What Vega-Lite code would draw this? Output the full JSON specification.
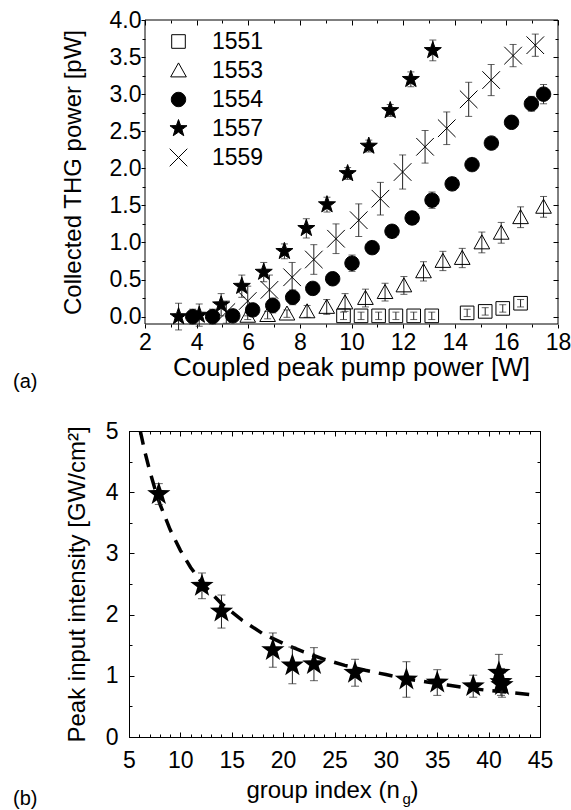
{
  "$schema": "https://vega.github.io/schema/vega-lite/v6.json",
  "padding": {"left": 12, "top": 9, "right": 2, "bottom": 0},
  "background": "white",
  "config": {
    "font": "Liberation Sans",
    "view": {"stroke": "black", "strokeWidth": 1},
    "axis": {
      "domainColor": "black", "tickColor": "black", "labelColor": "black", "titleColor": "black",
      "labelFont": "Liberation Sans", "titleFont": "Liberation Sans",
      "labelFontSize": 23, "titleFontSize": 24, "titleFontWeight": "normal",
      "grid": false, "tickWidth": 1, "domainWidth": 1, "labelOverlap": false, "labelFlush": false, "labelBound": false
    },
    "legend": {
      "labelFont": "Liberation Sans", "labelFontSize": 23, "labelColor": "black",
      "symbolStrokeColor": "black", "symbolStrokeWidth": 1, "symbolSize": 256,
      "rowPadding": 5, "labelOffset": 22
    },
    "title": {"font": "Liberation Sans", "fontSize": 20, "fontWeight": "normal", "color": "black"}
  },
  "datasets": {
    "thg": [
      {"s": "1551", "p": 9.69, "v": 0.01, "e": 0.05},
      {"s": "1551", "p": 10.37, "v": 0.01, "e": 0.05},
      {"s": "1551", "p": 11.05, "v": 0.01, "e": 0.05},
      {"s": "1551", "p": 11.72, "v": 0.01, "e": 0.05},
      {"s": "1551", "p": 12.41, "v": 0.01, "e": 0.05},
      {"s": "1551", "p": 13.11, "v": 0.01, "e": 0.05},
      {"s": "1551", "p": 14.48, "v": 0.05, "e": 0.05},
      {"s": "1551", "p": 15.18, "v": 0.07, "e": 0.05},
      {"s": "1551", "p": 15.86, "v": 0.11, "e": 0.05},
      {"s": "1551", "p": 16.55, "v": 0.18, "e": 0.05},
      {"s": "1553", "p": 5.98, "v": 0.01, "e": 0.05},
      {"s": "1553", "p": 6.75, "v": 0.02, "e": 0.05},
      {"s": "1553", "p": 7.5, "v": 0.04, "e": 0.05},
      {"s": "1553", "p": 8.28, "v": 0.07, "e": 0.08},
      {"s": "1553", "p": 9.04, "v": 0.13, "e": 0.1},
      {"s": "1553", "p": 9.75, "v": 0.19, "e": 0.12},
      {"s": "1553", "p": 10.54, "v": 0.25, "e": 0.12},
      {"s": "1553", "p": 11.3, "v": 0.33, "e": 0.12},
      {"s": "1553", "p": 12.03, "v": 0.42, "e": 0.12},
      {"s": "1553", "p": 12.79, "v": 0.61, "e": 0.13},
      {"s": "1553", "p": 13.54, "v": 0.75, "e": 0.13},
      {"s": "1553", "p": 14.29, "v": 0.79, "e": 0.13},
      {"s": "1553", "p": 15.05, "v": 1.0, "e": 0.14},
      {"s": "1553", "p": 15.8, "v": 1.13, "e": 0.14},
      {"s": "1553", "p": 16.55, "v": 1.34, "e": 0.14},
      {"s": "1553", "p": 17.44, "v": 1.48, "e": 0.14},
      {"s": "1554", "p": 3.85, "v": 0.0, "e": 0.1},
      {"s": "1554", "p": 4.62, "v": 0.0, "e": 0.1},
      {"s": "1554", "p": 5.4, "v": 0.01, "e": 0.08},
      {"s": "1554", "p": 6.17, "v": 0.09, "e": 0.08},
      {"s": "1554", "p": 6.95, "v": 0.15, "e": 0.1},
      {"s": "1554", "p": 7.72, "v": 0.26, "e": 0.1},
      {"s": "1554", "p": 8.5, "v": 0.38, "e": 0.08},
      {"s": "1554", "p": 9.27, "v": 0.51, "e": 0.08},
      {"s": "1554", "p": 10.02, "v": 0.72, "e": 0.11},
      {"s": "1554", "p": 10.8, "v": 0.93, "e": 0.06},
      {"s": "1554", "p": 11.57, "v": 1.15, "e": 0.06},
      {"s": "1554", "p": 12.35, "v": 1.33, "e": 0.08},
      {"s": "1554", "p": 13.12, "v": 1.57, "e": 0.11},
      {"s": "1554", "p": 13.9, "v": 1.79, "e": 0.08},
      {"s": "1554", "p": 14.67, "v": 2.05, "e": 0.06},
      {"s": "1554", "p": 15.42, "v": 2.34, "e": 0.06},
      {"s": "1554", "p": 16.2, "v": 2.62, "e": 0.08},
      {"s": "1554", "p": 16.97, "v": 2.87, "e": 0.1},
      {"s": "1554", "p": 17.44, "v": 3.0, "e": 0.13},
      {"s": "1557", "p": 3.3, "v": 0.0, "e": 0.18},
      {"s": "1557", "p": 4.1, "v": 0.02, "e": 0.15},
      {"s": "1557", "p": 4.95, "v": 0.16, "e": 0.15},
      {"s": "1557", "p": 5.75, "v": 0.41, "e": 0.15},
      {"s": "1557", "p": 6.6, "v": 0.6, "e": 0.13},
      {"s": "1557", "p": 7.4, "v": 0.88, "e": 0.1},
      {"s": "1557", "p": 8.25, "v": 1.19, "e": 0.13},
      {"s": "1557", "p": 9.05, "v": 1.51, "e": 0.1},
      {"s": "1557", "p": 9.85, "v": 1.93, "e": 0.08},
      {"s": "1557", "p": 10.67, "v": 2.3, "e": 0.08},
      {"s": "1557", "p": 11.5, "v": 2.78, "e": 0.08},
      {"s": "1557", "p": 12.3, "v": 3.2, "e": 0.1},
      {"s": "1557", "p": 13.15, "v": 3.59, "e": 0.14},
      {"s": "1559", "p": 5.15, "v": 0.06, "e": 0.15},
      {"s": "1559", "p": 5.98, "v": 0.21, "e": 0.2},
      {"s": "1559", "p": 6.82, "v": 0.36, "e": 0.2},
      {"s": "1559", "p": 7.7, "v": 0.53, "e": 0.2},
      {"s": "1559", "p": 8.54, "v": 0.77, "e": 0.2},
      {"s": "1559", "p": 9.4, "v": 1.05, "e": 0.2},
      {"s": "1559", "p": 10.28, "v": 1.3, "e": 0.22},
      {"s": "1559", "p": 11.12, "v": 1.59, "e": 0.22},
      {"s": "1559", "p": 11.98, "v": 1.95, "e": 0.23},
      {"s": "1559", "p": 12.85, "v": 2.29, "e": 0.22},
      {"s": "1559", "p": 13.69, "v": 2.54, "e": 0.22},
      {"s": "1559", "p": 14.54, "v": 2.93, "e": 0.23},
      {"s": "1559", "p": 15.41, "v": 3.19, "e": 0.21},
      {"s": "1559", "p": 16.26, "v": 3.52, "e": 0.15},
      {"s": "1559", "p": 17.12, "v": 3.66, "e": 0.15}
    ],
    "gi": [
      {"n": 7.9, "i": 3.97, "e": 0.17},
      {"n": 12.1, "i": 2.47, "e": 0.21},
      {"n": 14.0, "i": 2.05, "e": 0.27},
      {"n": 19.0, "i": 1.42, "e": 0.28},
      {"n": 20.9, "i": 1.17, "e": 0.3},
      {"n": 23.0, "i": 1.19, "e": 0.27},
      {"n": 27.0, "i": 1.05, "e": 0.22},
      {"n": 32.0, "i": 0.94, "e": 0.29},
      {"n": 35.0, "i": 0.89, "e": 0.21},
      {"n": 38.5, "i": 0.83, "e": 0.18},
      {"n": 41.0, "i": 1.05, "e": 0.3},
      {"n": 41.2, "i": 0.9, "e": 0.22},
      {"n": 41.3, "i": 0.85, "e": 0.2}
    ],
    "fit": [
      {"n": 6.1, "i": 5.0}, {"n": 6.5, "i": 4.69}, {"n": 7.0, "i": 4.36}, {"n": 7.5, "i": 4.07},
      {"n": 8.0, "i": 3.81}, {"n": 9.0, "i": 3.39}, {"n": 10.0, "i": 3.05}, {"n": 11.0, "i": 2.77},
      {"n": 12.0, "i": 2.54}, {"n": 13.0, "i": 2.35}, {"n": 14.0, "i": 2.18}, {"n": 16.0, "i": 1.91},
      {"n": 18.0, "i": 1.69}, {"n": 20.0, "i": 1.53}, {"n": 22.0, "i": 1.39}, {"n": 24.0, "i": 1.27},
      {"n": 26.0, "i": 1.17}, {"n": 28.0, "i": 1.09}, {"n": 30.0, "i": 1.02}, {"n": 32.0, "i": 0.95},
      {"n": 34.0, "i": 0.9}, {"n": 36.0, "i": 0.85}, {"n": 38.0, "i": 0.8}, {"n": 40.0, "i": 0.76},
      {"n": 42.0, "i": 0.73}, {"n": 44.2, "i": 0.69}
    ]
  },
  "spacing": 27,
  "vconcat": [
    {
      "width": 429,
      "height": 304,
      "view": {"stroke": null},
      "title": {"text": "(a)", "orient": "bottom", "anchor": "start", "frame": "group", "dx": -116, "offset": -8},
      "resolve": {"axis": {"x": "independent", "y": "independent"}},
      "layer": [
        {
          "data": {"values": [{}]},
          "mark": {"type": "rect", "fill": "transparent", "stroke": "black", "strokeWidth": 1},
          "encoding": {
            "x": {"datum": 2, "type": "quantitative", "scale": {"domain": [1.38, 18], "zero": false, "nice": false}, "axis": null},
            "x2": {"datum": 18},
            "y": {"datum": -0.1, "type": "quantitative", "scale": {"domain": [-0.1, 4.0], "zero": false, "nice": false}, "axis": null},
            "y2": {"datum": 4}
          }
        },
        {
          "data": {"name": "thg"},
          "mark": {"type": "errorbar", "ticks": {"size": 7}, "color": "#222222", "thickness": 1},
          "encoding": {
            "x": {"field": "p", "type": "quantitative", "scale": {"domain": [1.38, 18], "zero": false, "nice": false}, "axis": null},
            "y": {"field": "v", "type": "quantitative", "scale": {"domain": [-0.1, 4.0], "zero": false, "nice": false}, "axis": null},
            "yError": {"field": "e"}
          }
        },
        {
          "data": {"name": "thg"},
          "mark": {"type": "point", "strokeWidth": 1, "opacity": 1},
          "encoding": {
            "x": {"field": "p", "type": "quantitative", "scale": {"domain": [1.38, 18], "zero": false, "nice": false},
              "axis": {"orient": "bottom", "domain": false, "values": [2,3,4,5,6,7,8,9,10,11,12,13,14,15,16,17,18],
                "labelExpr": "datum.value % 2 == 0 ? datum.label : ''",
                "tickSize": {"condition": {"test": "datum.value % 2 == 0", "value": 4}, "value": 3},
                "title": "Coupled peak pump power [W]", "titleFontSize": 26, "titleX": 222, "labelPadding": 3, "titlePadding": 0}},
            "y": {"field": "v", "type": "quantitative", "scale": {"domain": [-0.1, 4.0], "zero": false, "nice": false},
              "axis": {"orient": "left", "domain": false, "offset": -16, "values": [0,0.25,0.5,0.75,1,1.25,1.5,1.75,2,2.25,2.5,2.75,3,3.25,3.5,3.75,4],
                "labelExpr": "datum.value % 0.5 == 0 ? format(datum.value, '.1f') : ''",
                "tickSize": {"condition": {"test": "datum.value % 0.5 == 0", "value": 4}, "value": 3},
                "title": "Collected THG power [pW]", "labelPadding": 0, "titlePadding": 24}},
            "shape": {"field": "s", "type": "nominal",
              "scale": {"domain": ["1551", "1553", "1554", "1557", "1559"],
                "range": [
                  "M-0.85,-0.85H0.85V0.85H-0.85Z",
                  "M0,-0.95L0.98,0.8H-0.98Z",
                  "M-0.9,0A0.9,0.9 0 1,0 0.9,0A0.9,0.9 0 1,0 -0.9,0Z",
                  "M0,-1.12L0.263,-0.363L1.065,-0.346L0.426,0.139L0.659,0.906L0,0.448L-0.659,0.906L-0.426,0.139L-1.065,-0.346L-0.263,-0.363Z",
                  "M-1.1,-1.1L1.1,1.1M-1.1,1.1L1.1,-1.1"
                ]},
              "legend": {"title": null, "orient": "none", "legendX": 38, "legendY": 10}},
            "fill": {"field": "s", "type": "nominal",
              "scale": {"domain": ["1551", "1553", "1554", "1557", "1559"],
                "range": ["transparent", "transparent", "black", "black", "transparent"]},
              "legend": {"title": null, "orient": "none", "legendX": 38, "legendY": 10}},
            "stroke": {"field": "s", "type": "nominal",
              "scale": {"domain": ["1551", "1553", "1554", "1557", "1559"],
                "range": ["black", "black", "black", "black", "black"]},
              "legend": {"title": null, "orient": "none", "legendX": 38, "legendY": 10}},
            "size": {"value": 256}
          }
        },
        {
          "data": {"name": "thg"},
          "mark": {"type": "point", "opacity": 0},
          "encoding": {
            "x": {"field": "p", "type": "quantitative", "scale": {"domain": [1.38, 18], "zero": false, "nice": false},
              "axis": {"orient": "top", "domain": false, "values": [2,3,4,5,6,7,8,9,10,11,12,13,14,15,16,17,18], "labels": false, "title": null,
                "tickSize": {"condition": {"test": "datum.value % 2 == 0", "value": -5}, "value": -3}}},
            "y": {"field": "v", "type": "quantitative", "scale": {"domain": [-0.1, 4.0], "zero": false, "nice": false},
              "axis": {"orient": "right", "domain": false, "values": [0,0.25,0.5,0.75,1,1.25,1.5,1.75,2,2.25,2.5,2.75,3,3.25,3.5,3.75,4], "labels": false, "title": null,
                "tickSize": {"condition": {"test": "datum.value % 0.5 == 0", "value": -5}, "value": -3}}}
          }
        }
      ]
    },
    {
      "width": 411,
      "height": 306,
      "title": {"text": "(b)", "orient": "bottom", "anchor": "start", "frame": "group", "dx": -116, "offset": -18},
      "resolve": {"axis": {"x": "independent", "y": "independent"}},
      "layer": [
        {
          "data": {"name": "fit"},
          "mark": {"type": "line", "color": "black", "strokeWidth": 3.5, "strokeDash": [14, 9], "clip": true},
          "encoding": {
            "x": {"field": "n", "type": "quantitative", "scale": {"domain": [5, 45]},
              "axis": {"orient": "bottom", "values": [5,6,7,8,9,10,11,12,13,14,15,16,17,18,19,20,21,22,23,24,25,26,27,28,29,30,31,32,33,34,35,36,37,38,39,40,41,42,43,44,45],
                "labelExpr": "datum.value % 5 == 0 ? datum.label : ''",
                "tickSize": {"condition": {"test": "datum.value % 5 == 0", "value": -5}, "value": -3},
                "title": null, "labelPadding": 17}},
            "y": {"field": "i", "type": "quantitative", "scale": {"domain": [0, 5]},
              "axis": {"orient": "left", "values": [0,0.5,1,1.5,2,2.5,3,3.5,4,4.5,5],
                "labelExpr": "datum.value % 1 == 0 ? format(datum.value, 'd') : ''",
                "tickSize": {"condition": {"test": "datum.value % 1 == 0", "value": -5}, "value": -3},
                "title": "Peak input intensity [GW/cm²]", "labelPadding": 16, "titlePadding": 16}}
          }
        },
        {
          "data": {"name": "gi"},
          "mark": {"type": "errorbar", "ticks": {"size": 8}, "color": "#222222", "thickness": 1},
          "encoding": {
            "x": {"field": "n", "type": "quantitative", "axis": null},
            "y": {"field": "i", "type": "quantitative", "axis": null},
            "yError": {"field": "e"}
          }
        },
        {
          "data": {"name": "gi"},
          "mark": {"type": "point", "filled": true, "color": "black", "opacity": 1,
            "shape": "M0,-1L0.235,-0.324L0.951,-0.309L0.38,0.124L0.588,0.809L0,0.4L-0.588,0.809L-0.38,0.124L-0.951,-0.309L-0.235,-0.324Z",
            "size": 600},
          "encoding": {
            "x": {"field": "n", "type": "quantitative", "axis": null},
            "y": {"field": "i", "type": "quantitative", "axis": null}
          }
        },
        {
          "data": {"name": "gi"},
          "mark": {"type": "point", "opacity": 0},
          "encoding": {
            "x": {"field": "n", "type": "quantitative",
              "axis": {"orient": "top", "values": [5,6,7,8,9,10,11,12,13,14,15,16,17,18,19,20,21,22,23,24,25,26,27,28,29,30,31,32,33,34,35,36,37,38,39,40,41,42,43,44,45], "labels": false, "title": null,
                "tickSize": {"condition": {"test": "datum.value % 5 == 0", "value": -5}, "value": -3}}},
            "y": {"field": "i", "type": "quantitative",
              "axis": {"orient": "right", "values": [0,0.5,1,1.5,2,2.5,3,3.5,4,4.5,5], "labels": false, "title": null,
                "tickSize": {"condition": {"test": "datum.value % 1 == 0", "value": -5}, "value": -3}}}
          }
        },
        {
          "data": {"values": [{}]},
          "mark": {"type": "text", "text": "group index (n", "align": "right", "baseline": "alphabetic", "fontSize": 24, "color": "black"},
          "encoding": {
            "x": {"datum": 31.36, "type": "quantitative", "axis": null},
            "y": {"datum": -1.0, "type": "quantitative", "axis": null}
          }
        },
        {
          "data": {"values": [{}]},
          "mark": {"type": "text", "text": "g", "align": "left", "baseline": "alphabetic", "fontSize": 15, "color": "black"},
          "encoding": {
            "x": {"datum": 31.62, "type": "quantitative", "axis": null},
            "y": {"datum": -1.1, "type": "quantitative", "axis": null}
          }
        },
        {
          "data": {"values": [{}]},
          "mark": {"type": "text", "text": ")", "align": "left", "baseline": "alphabetic", "fontSize": 24, "color": "black"},
          "encoding": {
            "x": {"datum": 32.4, "type": "quantitative", "axis": null},
            "y": {"datum": -1.0, "type": "quantitative", "axis": null}
          }
        }
      ]
    }
  ]
}
